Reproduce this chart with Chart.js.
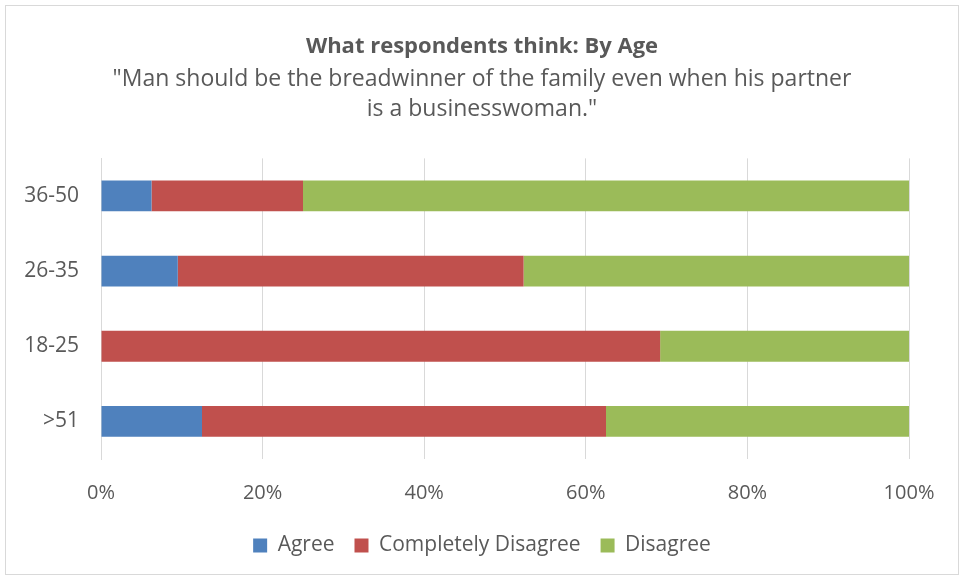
<!DOCTYPE html>
<html>
<head>
<meta charset="utf-8">
<script src="https://cdn.jsdelivr.net/npm/chart.js@4/dist/chart.umd.min.js"></script>
<style>
  body { margin: 0; background: #fff; }
  #box {
    position: absolute; left: 5px; top: 5px;
    width: 952px; height: 568px;
    border: 1px solid #d9d9d9;
  }
</style>
</head>
<body>
<div id="box"><canvas id="chart"></canvas></div>
<script>
const ageGroups = ['36-50', '26-35', '18-25', '>51'];
const agree = [6.25, 9.5, 0, 12.5];
const completelyDisagree = [18.75, 42.8, 69.2, 50];
const disagree = [75, 47.7, 30.8, 37.5];
const xTicks = [0, 20, 40, 60, 80, 100];

const textColor = '#595959';
const fontFamily = '"Open Sans", sans-serif';

new Chart(document.getElementById('chart'), {
    type: 'bar',
    data: {
        labels: ageGroups,
        datasets: [
            { label: 'Agree', data: agree, backgroundColor: '#4f81bd' },
            { label: 'Completely Disagree', data: completelyDisagree, backgroundColor: '#c0504d' },
            { label: 'Disagree', data: disagree, backgroundColor: '#9bbb59' }
        ]
    },
    options: {
        indexAxis: 'y',
        responsive: true,
        maintainAspectRatio: false,
        animation: false,
        layout: { padding: { left: 0, right: 0, top: 0, bottom: 8 } },
        datasets: {
            bar: { barPercentage: 0.82, categoryPercentage: 0.5, borderWidth: 0 }
        },
        scales: {
            x: {
                stacked: true,
                min: 0,
                max: 100,
                afterBuildTicks: (scale) => {
                    scale.ticks = xTicks.map(v => ({ value: v }));
                },
                afterFit: (scale) => { scale.height = 56; },
                grid: { color: '#d9d9d9', lineWidth: 1, drawTicks: false },
                border: { display: false },
                ticks: {
                    padding: 22,
                    color: textColor,
                    font: { family: fontFamily, size: 20 },
                    callback: (v) => v + '%'
                }
            },
            y: {
                stacked: true,
                afterFit: (scale) => { scale.width = 95; },
                grid: { display: false, drawTicks: false },
                border: { display: true, color: '#d9d9d9' },
                ticks: {
                    padding: 22,
                    color: textColor,
                    font: { family: fontFamily, size: 21 }
                }
            },
            // empty right-hand margin so the titles stay centred over the whole box
            spacer: {
                type: 'linear',
                position: 'right',
                afterFit: (scale) => { scale.width = 49; },
                grid: { display: false, drawTicks: false },
                border: { display: false },
                ticks: { display: false }
            }
        },
        plugins: {
            title: {
                display: true,
                text: 'What respondents think: By Age',
                color: textColor,
                font: { family: fontFamily, size: 22, weight: 'bold', lineHeight: 1.2 },
                padding: { top: 28, bottom: 0 }
            },
            subtitle: {
                display: true,
                text: ['"Man should be the breadwinner of the family even when his partner', 'is a businesswoman."'],
                color: textColor,
                font: { family: fontFamily, size: 23, lineHeight: 1.304 },
                padding: { top: 4, bottom: 34 }
            },
            legend: {
                position: 'bottom',
                labels: {
                    color: textColor,
                    font: { family: fontFamily, size: 21 },
                    boxWidth: 14,
                    boxHeight: 14,
                    padding: 20
                }
            },
            tooltip: { enabled: false }
        }
    }
});
</script>
</body>
</html>
